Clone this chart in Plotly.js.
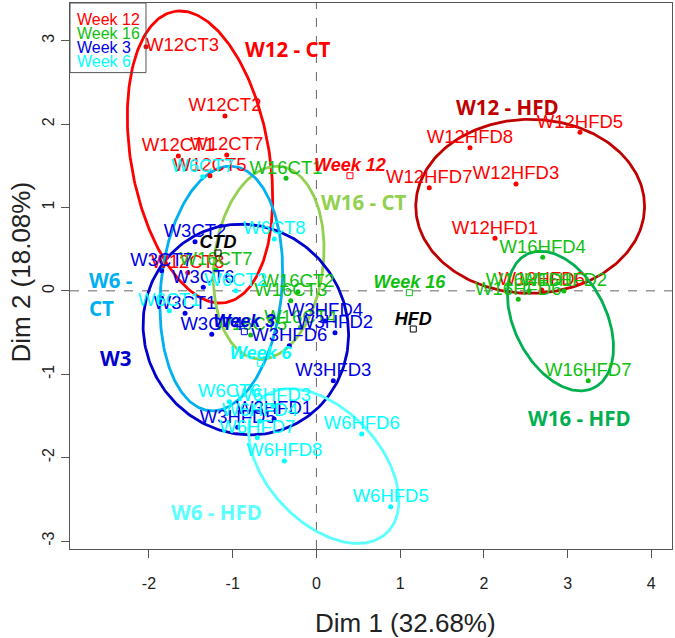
<!DOCTYPE html>
<html><head><meta charset="utf-8">
<script src="https://cdn.plot.ly/plotly-3.0.1.min.js"></script>
<style>html,body{margin:0;padding:0;background:#fff}</style>
</head><body><div id="chart" style="width:675px;height:638px"></div>
<script>
// ---------------- DATA ----------------
const weeks = ['Week 12', 'Week 16', 'Week 3', 'Week 6'];

const w12Labels = ['W12CT3','W12CT2','W12CT1','W12CT7','W12CT5','W12CT8','W12HFD8','W12HFD5','W12HFD7','W12HFD3','W12HFD1','W12HFD6'];
const w12X = [-2.035,-1.092,-1.649,-1.071,-1.271,-1.537, 1.834, 3.148, 1.348, 2.384, 2.133, 2.691];
const w12Y = [ 2.928, 2.097, 1.617, 1.629, 1.381, 0.218, 1.717, 1.902, 1.237, 1.281, 0.630, 0.010];

const w16Labels = ['W16CT1','W16CT7','W16CT2','W16CT3','W16CT4','W16CT5','W16HFD4','W16HFD7','W16HFD6','W16HFD1','W16HFD2'];
const w16X = [-0.363,-1.199,-0.220,-0.307,-0.188,-0.785, 2.703, 3.247, 2.411, 2.539, 2.957];
const w16Y = [ 1.350, 0.250,-0.010,-0.118,-0.437,-0.530, 0.402,-1.078,-0.101,-0.002,-0.002];

const w3Labels = ['W3CT2','W3CT7','W3CT6','W3CT1','W3CT4','W3HFD4','W3HFD2','W3HFD6','W3HFD3','W3HFD1','W3HFD5'];
const w3X = [-1.450,-1.848,-1.351,-1.569,-1.250, 0.103, 0.222,-0.324, 0.202,-0.506,-0.940];
const w3Y = [ 0.589, 0.242, 0.043,-0.269,-0.521,-0.362,-0.502,-0.658,-1.078,-1.537,-1.636];

const w6Labels = ['W6CT8','W6CT7','W6CT2','W6CT1','W6CT6','W6HFD3','W6HFD4','W6HFD7','W6HFD8','W6HFD6','W6HFD5'];
const w6X = [-0.503,-1.358,-0.964,-1.757,-1.040,-0.518,-0.674,-0.706,-0.383, 0.541, 0.887];
const w6Y = [ 0.622, 1.369, 0.002,-0.238,-1.329,-1.381,-1.561,-1.761,-2.041,-1.717,-2.589];

// supplementary category centres
const supLabels = ['Week 12','Week 16','HFD','CTD','Week 3','Week 6'];
const supX = [0.401, 1.110, 1.157,-1.175,-0.861,-0.665];
const supY = [1.381,-0.022,-0.458, 0.454,-0.490,-0.869];

// confidence ellipses (centre, semi-axes, rotation in degrees)
const ellNames = ['W12 - CT','W12 - HFD','W16 - CT','W16 - HFD','W3','W6 - CT','W6 - HFD'];
const ellCX = [-1.390, 2.553,-0.570, 2.915,-0.843,-1.136, 0.088];
const ellCY = [ 1.605, 1.014, 0.338,-0.362,-0.464, 0.028,-2.101];
const ellA  = [ 1.772, 1.366, 1.163, 0.895, 1.279, 1.472, 1.100];
const ellB  = [ 0.825, 1.043, 0.651, 0.549, 1.211, 0.723, 0.676];
const ellAng= [ 99.95, 0.0,   83.1,  116.6, 119.0, 84.6,  132.9];

// group label texts and anchor positions
const groupText = ['W12 - CT','W12 - HFD','W16 - CT','W16 - HFD','W6 -','CT','W3','W6 - HFD'];
const groupX = [-0.345, 2.288, 0.565, 3.148,-2.743,-2.743,-2.393,-1.193];
const groupY = [ 2.900, 2.209, 1.069,-1.529, 0.130,-0.209,-0.809,-2.649];

const xTicks = [-2,-1,0,1,2,3,4];
const xTickText = ['-2','-1','0','1','2','3','4'];
const yTicks = [-3,-2,-1,0,1,2,3];
const yTickText = ['-3','-2','-1','0','1','2','3'];
const xTitle = 'Dim 1 (32.68%)';
const yTitle = 'Dim 2 (18.08%)';

// ---------------- STYLE ----------------
const weekColors = ['#FF0000','#10C010','#0000E6','#00FFFF'];
const ellColors = ['#FF0000','#C00000','#92D050','#00B050','#0000CC','#00B0F0','#5CFFFF'];
const groupColors = ['#FF0000','#C00000','#92D050','#00B050','#00B0F0','#00B0F0','#0000CC','#5CFFFF'];
const groupAlign = ['center','center','center','center','left','left','center','center'];
const supColors = ['#FF0000','#10C010','#000000','#000000','#0000E6','#00FFFF'];
const posOverride = {'W12CT3':'middle right'};
const FONT = 'Liberation Sans, Arial, sans-serif';

const traces = [];
// ellipses
ellNames.forEach((n, i) => {
  const xs = [], ys = [];
  const th = ellAng[i] * Math.PI / 180;
  for (let k = 0; k <= 240; k++) {
    const t = 2 * Math.PI * k / 240;
    const u = ellA[i] * Math.cos(t), v = ellB[i] * Math.sin(t);
    xs.push(ellCX[i] + u * Math.cos(th) - v * Math.sin(th));
    ys.push(ellCY[i] + u * Math.sin(th) + v * Math.cos(th));
  }
  traces.push({x: xs, y: ys, mode: 'lines', type: 'scatter', hoverinfo: 'skip',
    line: {color: ellColors[i], width: 2.8}, showlegend: false});
});

const series = [[w12Labels,w12X,w12Y],[w16Labels,w16X,w16Y],[w3Labels,w3X,w3Y],[w6Labels,w6X,w6Y]];
series.forEach((s, i) => {
  traces.push({
    x: s[1], y: s[2], type: 'scatter', mode: 'markers', name: weeks[i],
    marker: {color: weekColors[i], size: 5}, showlegend: false
  });
  traces.push({
    x: s[1], y: s[2], text: s[0], type: 'scatter', mode: 'text', name: weeks[i],
    textposition: s[0].map(l => posOverride[l] || 'top center'),
    textfont: {family: FONT, size: 18.5, color: weekColors[i]},
    cliponaxis: false, showlegend: false
  });
});

traces.push({
  x: supX, y: supY, type: 'scatter', mode: 'markers',
  marker: {symbol: 'square-open', size: 6, color: supColors, line: {width: 1}}, showlegend: false
});
traces.push({
  x: supX, y: supY, text: supLabels, type: 'scatter', mode: 'text',
  textposition: 'top center',
  textfont: {family: FONT, size: 18, color: supColors, weight: 'bold', style: 'italic'},
  showlegend: false
});

const annotations = [];
groupText.forEach((t, i) => {
  annotations.push({x: groupX[i], y: groupY[i], xref: 'x', yref: 'y', text: t, showarrow: false,
    xanchor: groupAlign[i], yanchor: 'middle',
    font: {family: 'Open Sans, sans-serif', size: 20.5, color: groupColors[i], weight: 'bold'}});
});
// legend (text only)
weeks.forEach((w, i) => {
  annotations.push({x: 0.008, y: 0.9689 - i * 0.0255, xref: 'paper', yref: 'paper', text: w,
    showarrow: false, xanchor: 'left', yanchor: 'middle',
    font: {family: FONT, size: 16, color: weekColors[i]}});
});
// axis titles
annotations.push({x: 0.5565, y: -0.1355, xref: 'paper', yref: 'paper', text: xTitle, showarrow: false,
  xanchor: 'center', yanchor: 'middle', font: {family: FONT, size: 26, color: '#222'}});
annotations.push({x: -0.083, y: 0.5064, xref: 'paper', yref: 'paper', text: yTitle, showarrow: false,
  textangle: -90, xanchor: 'center', yanchor: 'middle', font: {family: FONT, size: 26, color: '#222'}});

const axisCommon = {
  showgrid: false, zeroline: false, showline: true, mirror: true, linecolor: '#555', linewidth: 1,
  ticks: 'outside', ticklen: 8, tickcolor: '#555', tickwidth: 1,
  tickfont: {family: FONT, size: 16, color: '#222'}, fixedrange: true
};

const layout = {
  width: 675, height: 638,
  margin: {l: 70, r: 3, t: 3, b: 89},
  paper_bgcolor: '#fff', plot_bgcolor: '#fff',
  showlegend: false,
  xaxis: Object.assign({}, axisCommon, {range: [-2.943, 4.247], tickvals: xTicks, ticktext: xTickText, ticklabelstandoff: 12}),
  yaxis: Object.assign({}, axisCommon, {range: [-3.096, 3.452], tickvals: yTicks, ticktext: yTickText, tickangle: -90, ticklabelstandoff: 1}),
  shapes: [
    {type: 'line', xref: 'x', yref: 'paper', x0: 0, x1: 0, y0: 0, y1: 1, line: {color: '#666', width: 1, dash: 'dash'}, layer: 'below'},
    {type: 'line', xref: 'paper', yref: 'y', x0: 0, x1: 1, y0: 0, y1: 0, line: {color: '#666', width: 1, dash: 'dash'}, layer: 'below'},
    {type: 'rect', xref: 'paper', yref: 'paper', x0: 0, x1: 0.1262, y0: 0.8725, y1: 1, line: {color: '#555', width: 1}, fillcolor: 'rgba(0,0,0,0)'}
  ],
  annotations: annotations
};

Plotly.newPlot('chart', traces, layout, {displayModeBar: false, staticPlot: true});
</script>
</body></html>
